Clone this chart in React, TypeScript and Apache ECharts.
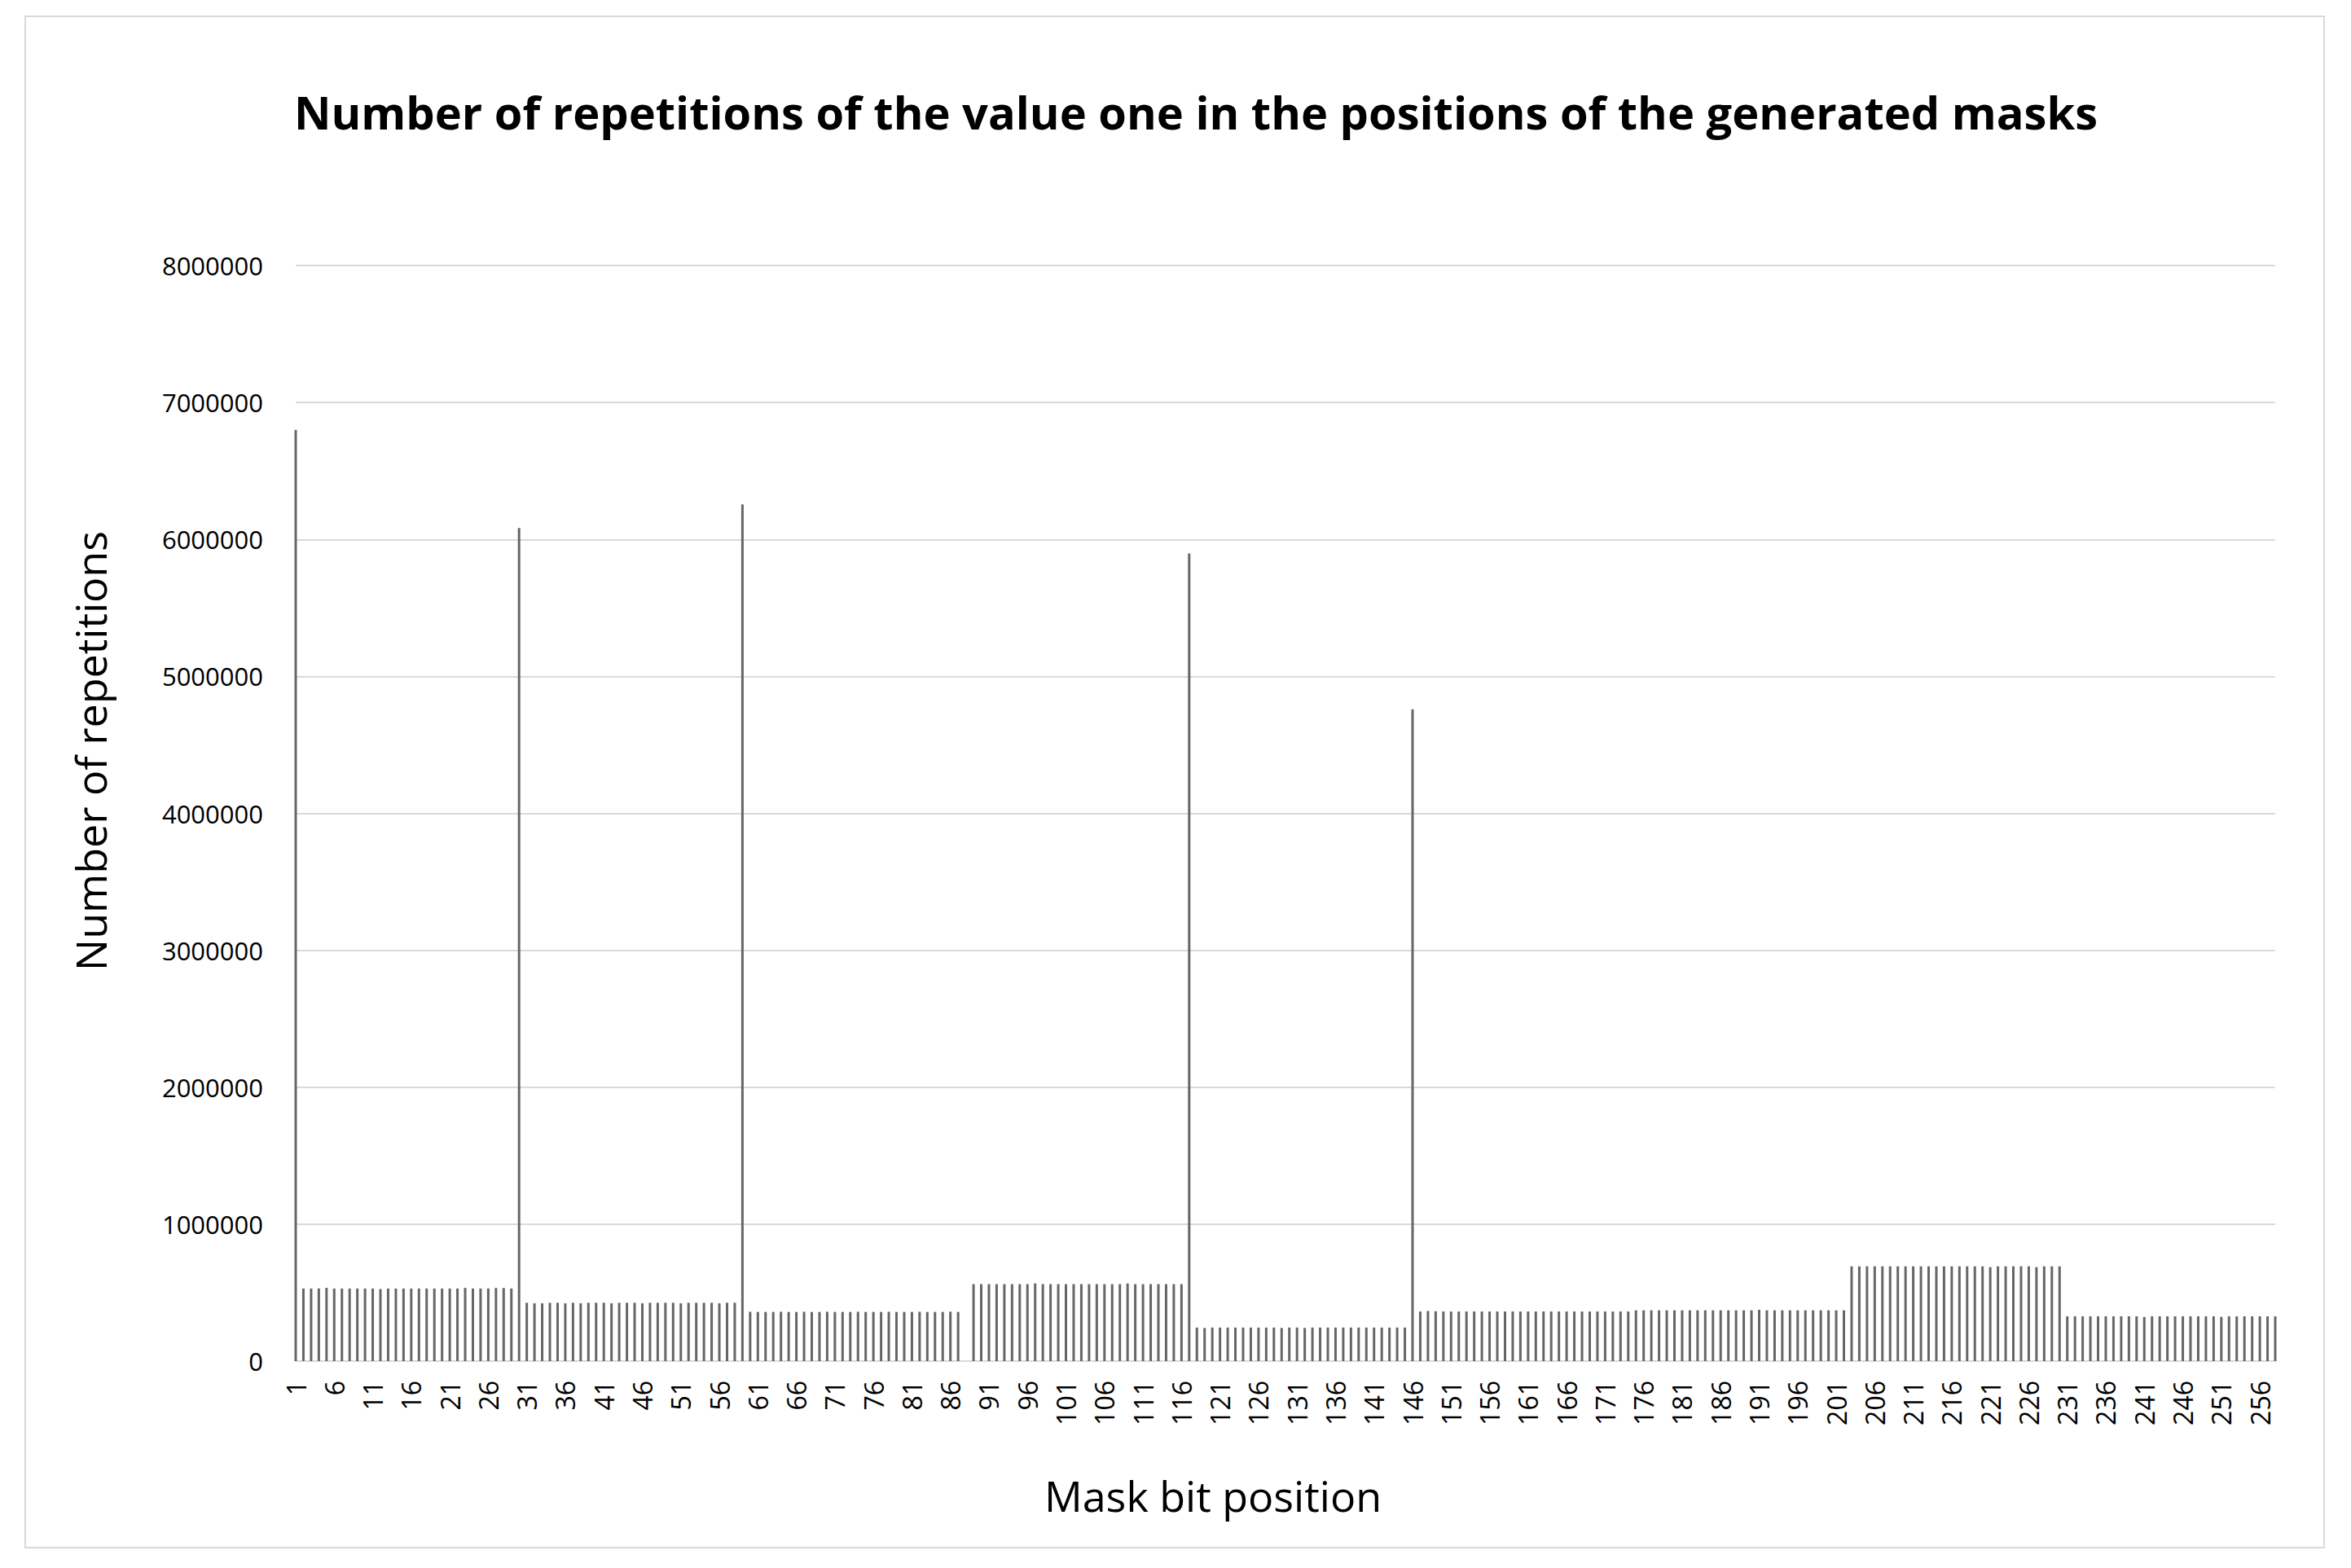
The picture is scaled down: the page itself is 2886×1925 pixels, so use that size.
import React, { useEffect, useRef } from 'react';
import * as echarts from 'echarts';

// mask bit positions 1..258 (labels shown every 5th)
const positions = Array.from({ length: 258 }, (_, i) => String(i + 1));

// first bit of each 29-bit block: 1, 30, 59, 88, 117, 146
const blockLeadValues = [6800000, 6083000, 6256000, 0, 5897000, 4760000];

// bits 2..29
const blockA = [
  530000, 530000, 531000, 535000, 530000, 530000, 530000, 530000, 530000, 530000,
  526000, 530000, 530000, 530000, 530000, 530000, 530000, 530000, 530000, 530000,
  530000, 535000, 530000, 530000, 530000, 534000, 534000, 530000,
];
// bits 31..58
const blockB = [
  426000, 422000, 422000, 426000, 426000, 422000, 426000, 422000, 426000, 426000,
  426000, 422000, 426000, 426000, 426000, 422000, 426000, 426000, 426000, 426000,
  422000, 426000, 426000, 426000, 426000, 422000, 426000, 426000,
];
// bits 60..87
const blockC = [
  360000, 359000, 359000, 359000, 360000, 359000, 359000, 360000, 359000, 359000,
  360000, 359000, 359000, 359000, 360000, 359000, 359000, 359000, 360000, 359000,
  359000, 359000, 360000, 359000, 359000, 359000, 361000, 359000,
];
// bits 89..116
const blockD = [
  562000, 562000, 562000, 562000, 562000, 562000, 562000, 562000, 567000, 562000,
  562000, 562000, 562000, 562000, 562000, 562000, 562000, 562000, 562000, 562000,
  567000, 562000, 562000, 562000, 562000, 562000, 562000, 562000,
];
// bits 118..145
const blockE = [
  245000, 242000, 245000, 245000, 245000, 245000, 245000, 245000, 245000, 245000,
  245000, 242000, 245000, 245000, 242000, 245000, 245000, 245000, 245000, 245000,
  245000, 245000, 245000, 245000, 245000, 245000, 245000, 245000,
];
// bits 147..174
const blockF = [
  362000, 366000, 364000, 362000, 362000, 362000, 362000, 362000, 362000, 362000,
  362000, 362000, 362000, 362000, 362000, 362000, 363000, 362000, 362000, 362000,
  362000, 362000, 362000, 362000, 362000, 362000, 362000, 362000,
];
// bits 175..202
const blockG = [
  371000, 371000, 371000, 371000, 371000, 371000, 371000, 371000, 371000, 371000,
  371000, 371000, 371000, 371000, 371000, 371000, 375000, 371000, 371000, 371000,
  371000, 371000, 371000, 371000, 371000, 371000, 371000, 371000,
];
// bits 203..230
const blockH = [
  692000, 692000, 692000, 692000, 692000, 692000, 692000, 692000, 692000, 692000,
  692000, 692000, 692000, 692000, 692000, 692000, 692000, 692000, 686000, 692000,
  692000, 692000, 692000, 692000, 686000, 692000, 692000, 692000,
];
// bits 231..258
const blockI = [
  327000, 327000, 327000, 327000, 327000, 327000, 327000, 327000, 327000, 327000,
  323000, 327000, 327000, 327000, 327000, 327000, 327000, 327000, 327000, 327000,
  323000, 327000, 327000, 327000, 327000, 327000, 327000, 327000,
];

const repetitions = [
  blockLeadValues[0], ...blockA,
  blockLeadValues[1], ...blockB,
  blockLeadValues[2], ...blockC,
  blockLeadValues[3], ...blockD,
  blockLeadValues[4], ...blockE,
  blockLeadValues[5], ...blockF,
  ...blockG,
  ...blockH,
  ...blockI,
];

const FONT = 'Open Sans';

export default function App() {
  const chartRef = useRef<HTMLDivElement>(null);

  useEffect(() => {
    if (!chartRef.current) return;
    const chart = echarts.init(chartRef.current, undefined, { renderer: 'svg' });

    const option: echarts.EChartsOption = {
      animation: false,
      backgroundColor: '#ffffff',
      textStyle: { fontFamily: FONT },
      graphic: [
        {
          type: 'rect',
          shape: { x: 31, y: 20, width: 2822, height: 1880 },
          style: { fill: 'none', stroke: '#d9d9d9', lineWidth: 2 },
          silent: true,
        },
        {
          type: 'text',
          x: 1468,
          y: 137,
          style: {
            text: 'Number of repetitions of the value one in the positions of the generated masks',
            align: 'center',
            verticalAlign: 'middle',
            fontFamily: FONT,
            fontSize: 56,
            fontWeight: 'bold',
            fill: '#000000',
          },
        },
        // axis titles (Excel places them off-centre from the plot)
        {
          type: 'text',
          x: 110,
          y: 922,
          rotation: Math.PI / 2,
          style: {
            text: 'Number of repetitions',
            align: 'center',
            verticalAlign: 'middle',
            fontFamily: FONT,
            fontSize: 52,
            fill: '#000000',
          },
        },
        {
          type: 'text',
          x: 1489,
          y: 1835,
          style: {
            text: 'Mask bit position',
            align: 'center',
            verticalAlign: 'middle',
            fontFamily: FONT,
            fontSize: 52,
            fill: '#000000',
          },
        },
      ],
      grid: {
        left: 363,
        right: 93,
        top: 326,
        bottom: 254,
      },
      xAxis: {
        type: 'category',
        data: positions,
        boundaryGap: false,
        axisLine: { lineStyle: { color: '#d9d9d9', width: 2 } },
        axisTick: { show: false },
        axisLabel: {
          interval: 4,
          rotate: 90,
          fontSize: 32,
          color: '#000000',
          margin: 24,
        },
        splitLine: { show: false },
      },
      yAxis: {
        type: 'value',
        min: 0,
        max: 8000000,
        interval: 1000000,
        axisLine: { show: false },
        axisTick: { show: false },
        axisLabel: {
          fontSize: 31,
          color: '#000000',
          margin: 40,
          formatter: (v: number) => String(v),
        },
        splitLine: { lineStyle: { color: '#d9d9d9', width: 2 } },
      },
      series: [
        {
          type: 'bar',
          data: repetitions,
          barWidth: 3,
          itemStyle: { color: '#666666' },
        },
      ],
    };

    chart.setOption(option);
    return () => chart.dispose();
  }, []);

  return (
    <div
      ref={chartRef}
      style={{ position: 'absolute', left: 0, top: 0, width: '2886px', height: '1925px', background: '#fff' }}
    />
  );
}
